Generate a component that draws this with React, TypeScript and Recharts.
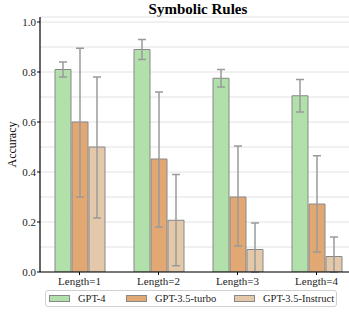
import {
  BarChart,
  Bar,
  XAxis,
  YAxis,
  CartesianGrid,
  ErrorBar,
} from "recharts";

const categories = ["Length=1", "Length=2", "Length=3", "Length=4"];

const gpt4 = [0.81, 0.89, 0.775, 0.705];
const gpt4Lo = [0.78, 0.85, 0.74, 0.64];
const gpt4Hi = [0.84, 0.93, 0.81, 0.77];

const turbo = [0.6, 0.452, 0.3, 0.272];
const turboLo = [0.3, 0.18, 0.104, 0.08];
const turboHi = [0.895, 0.72, 0.504, 0.465];

const instruct = [0.5, 0.207, 0.09, 0.062];
const instructLo = [0.216, 0.025, 0.0, 0.0];
const instructHi = [0.78, 0.39, 0.196, 0.14];

const yTicks = [0, 0.2, 0.4, 0.6, 0.8, 1.0];
const gridTicks = [0, 0.1, 0.2, 0.3, 0.4, 0.5, 0.6, 0.7, 0.8, 0.9, 1.0];

const SERIES = [
  { key: "gpt4", name: "GPT-4", color: "#b1e0aa", left: 3 },
  { key: "turbo", name: "GPT-3.5-turbo", color: "#e2a873", left: 80 },
  { key: "instruct", name: "GPT-3.5-Instruct", color: "#e3c9a9", left: 188 },
];

const data = categories.map((c, i) => ({
  name: c,
  gpt4: gpt4[i],
  gpt4Err: [gpt4[i] - gpt4Lo[i], gpt4Hi[i] - gpt4[i]],
  turbo: turbo[i],
  turboErr: [turbo[i] - turboLo[i], turboHi[i] - turbo[i]],
  instruct: instruct[i],
  instructErr: [instruct[i] - instructLo[i], instructHi[i] - instruct[i]],
}));

const FONT = "'Liberation Serif', 'Times New Roman', serif";
const tickStyle = { fontFamily: FONT, fontSize: 11, fill: "#222" };

const xTick = ({ x, y, payload }: any) => (
  <text x={x} y={y + 9} textAnchor="middle" style={tickStyle}>
    {payload.value}
  </text>
);

const yTick = ({ x, y, payload }: any) => (
  <text x={x} y={y + 4} textAnchor="end" style={tickStyle}>
    {Number(payload.value).toFixed(1)}
  </text>
);

function LegendBox() {
  return (
    <div
      style={{
        position: "absolute",
        left: 45,
        top: 290,
        border: "1px solid #d0d0d0",
        borderRadius: 3,
        height: 17,
        width: 292,
        boxSizing: "border-box",
        fontFamily: FONT,
        fontSize: 10.5,
        color: "#222",
        background: "#fff",
        whiteSpace: "nowrap",
      }}
    >
      {SERIES.map((s) => (
        <div
          key={s.key}
          style={{
            position: "absolute",
            left: s.left,
            top: 0,
            height: 15,
            display: "flex",
            alignItems: "center",
          }}
        >
          <span
            style={{
              display: "inline-block",
              width: 21,
              height: 7,
              boxSizing: "border-box",
              background: s.color,
              border: "1px solid #888",
              marginRight: 8,
            }}
          />
          <span>{s.name}</span>
        </div>
      ))}
    </div>
  );
}

export default function App() {
  return (
    <div
      style={{
        position: "absolute",
        left: 0,
        top: 0,
        width: 349,
        height: 316,
        overflow: "hidden",
        background: "#fff",
        fontFamily: FONT,
      }}
    >
      <div
        style={{
          position: "absolute",
          left: 0,
          top: 1,
          width: 396,
          textAlign: "center",
          fontWeight: "bold",
          fontSize: 15,
          color: "#000",
        }}
      >
        Symbolic Rules
      </div>
      <BarChart
        width={360}
        height={316}
        data={data}
        margin={{ top: 17, right: 4, bottom: 30, left: 0 }}
        barSize={16}
        barGap={1}
      >
        <CartesianGrid yAxisId="grid" vertical={false} stroke="#e2e2e2" />
        <XAxis
          dataKey="name"
          axisLine={{ stroke: "#000", strokeWidth: 1.2 }}
          tickLine={{ stroke: "#000" }}
          tickSize={3}
          tickMargin={1}
          tick={xTick}
          height={14}
          interval={0}
        />
        <XAxis
          xAxisId="top"
          orientation="top"
          dataKey="name"
          axisLine={{ stroke: "#000", strokeWidth: 1.2 }}
          tick={false}
          tickLine={false}
          height={0}
        />
        <YAxis
          domain={[0, 1.02]}
          ticks={yTicks}
          allowDataOverflow
          axisLine={{ stroke: "#000", strokeWidth: 1.2 }}
          tickLine={{ stroke: "#000" }}
          tickSize={3}
          tickMargin={1}
          tick={yTick}
          width={40}
          label={{
            value: "Accuracy",
            angle: -90,
            position: "insideLeft",
            offset: 12,
            style: { fontFamily: FONT, fontSize: 12, fill: "#000", textAnchor: "middle" },
          }}
        />
        <YAxis yAxisId="grid" hide domain={[0, 1.02]} ticks={gridTicks} allowDataOverflow />
        {SERIES.map((s) => (
          <Bar
            key={s.key}
            dataKey={s.key}
            name={s.name}
            fill={s.color}
            stroke="#888"
            strokeWidth={1}
            isAnimationActive={false}
          >
            <ErrorBar
              dataKey={`${s.key}Err`}
              width={4}
              stroke="#9a9a9a"
              strokeWidth={1.5}
              direction="y"
            />
          </Bar>
        ))}
      </BarChart>
      <LegendBox />
    </div>
  );
}
